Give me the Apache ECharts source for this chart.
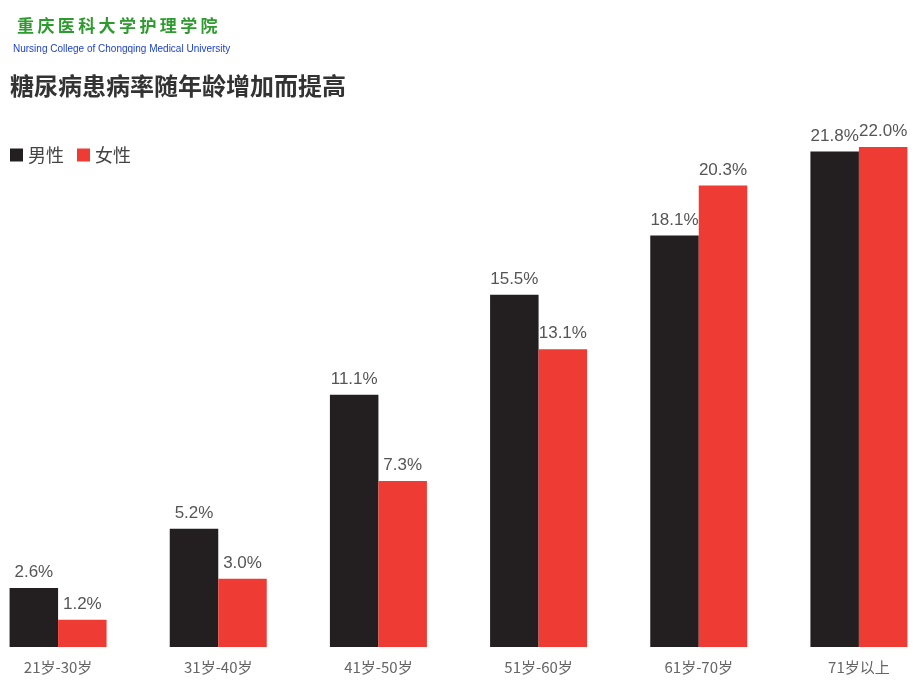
<!DOCTYPE html>
<html><head><meta charset="utf-8">
<script src="https://cdn.jsdelivr.net/npm/echarts@6/dist/echarts.min.js"></script>
<style>html,body{margin:0;padding:0;background:#fff;overflow:hidden;width:920px;height:690px}#c{width:961px;height:690px;margin-left:-22px}</style>
</head><body><div id="c"></div>
<script>
const categories = ['21岁-30岁','31岁-40岁','41岁-50岁','51岁-60岁','61岁-70岁','71岁以上'];
const male = [2.6, 5.2, 11.1, 15.5, 18.1, 21.8];
const female = [1.2, 3.0, 7.3, 13.1, 20.3, 22.0];
const seriesNames = ['男性','女性'];

const OFF = 22; // the chart canvas starts 22px left of the page edge
const chart = echarts.init(document.getElementById('c'));
const labelCfg = {
  show: true, position: 'top', distance: 7,
  color: '#555', fontSize: 17, fontFamily: 'Liberation Sans',
  formatter: p => p.value.toFixed(1) + '%'
};
chart.setOption({
  animation: false,
  backgroundColor: '#fff',
  graphic: [
    {type:'text', left: 17 + OFF, top: 17, style:{text:'重\u2009庆\u2009医\u2009科\u2009大\u2009学\u2009护\u2009理\u2009学\u2009院', fill:'#2e9b2e', font:'bold 17px "Noto Sans CJK SC"'}},
    {type:'text', left: 13 + OFF, top: 44, style:{text:'Nursing College of Chongqing Medical University', fill:'#1d3fcf', font:'10px "Liberation Sans Narrow", "Liberation Sans", sans-serif'}},
    {type:'text', left: 10 + OFF, top: 74, style:{text:'糖尿病患病率随年龄增加而提高', fill:'#333', font:'bold 24px "Noto Sans CJK SC"'}}
  ],
  legend: {
    left: 10 + OFF, top: 146, padding: 0, itemWidth: 13, itemHeight: 13, itemGap: 13,
    icon: 'rect',
    textStyle: {color: '#444', fontSize: 18, fontFamily: 'Noto Sans CJK SC'},
    data: seriesNames
  },
  grid: {left: 0, right: 0, top: 101.5, bottom: 43, containLabel: false},
  xAxis: {
    type: 'category', data: categories,
    axisLine: {show: false}, axisTick: {show: false},
    axisLabel: {color: '#666', fontSize: 15, margin: 13, fontFamily: 'Noto Sans CJK SC'}
  },
  yAxis: {type: 'value', min: 0, max: 24, show: false, splitLine: {show: false}},
  series: [
    {name: seriesNames[0], type: 'bar', data: male, barWidth: 48.5, barGap: '0%',
     itemStyle: {color: '#231f20'}, label: labelCfg},
    {name: seriesNames[1], type: 'bar', data: female, barWidth: 48.5, barGap: '0%',
     itemStyle: {color: '#ee3b34'}, label: labelCfg}
  ]
});
</script></body></html>
